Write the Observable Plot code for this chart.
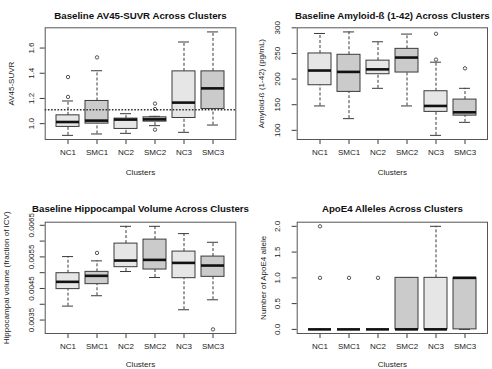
<!DOCTYPE html>
<html><head><meta charset="utf-8">
<script src="https://cdn.jsdelivr.net/npm/d3@7"></script>
<script src="https://cdn.jsdelivr.net/npm/@observablehq/plot@0.6"></script>
<style>
body{margin:0;background:#fff;}
#grid{display:grid;grid-template-columns:246px 246px;grid-template-rows:185px 184px;width:492px;height:369px;}
#grid svg{overflow:visible;}
</style></head><body><div id="grid"></div>
<script>
// ---- data ----
const clusters = ["NC1", "SMC1", "NC2", "SMC2", "NC3", "SMC3"];
const groups = ["NC", "SMC", "NC", "SMC", "NC", "SMC"];

// Panel 1: AV45-SUVR
const av45Low = [0.907, 0.918, 0.923, 0.984, 0.931, 0.989];
const av45Q1 = [0.974, 1.0, 0.958, 1.016, 1.045, 1.116];
const av45Median = [1.013, 1.024, 1.032, 1.034, 1.167, 1.28];
const av45Q3 = [1.066, 1.18, 1.04, 1.05, 1.415, 1.415];
const av45High = [1.18, 1.42, 1.079, 1.058, 1.648, 1.728];
const av45OutCluster = ["NC1", "NC1", "SMC1", "SMC2", "SMC2", "SMC2"];
const av45OutValue = [1.212, 1.37, 1.526, 1.159, 1.116, 0.952];
const av45Cutoff = [1.11];
const av45Ticks = [1.0, 1.2, 1.4, 1.6];

// Panel 2: Amyloid-beta (1-42)
const abLow = [147.6, 122.8, 182, 147.6, 90.2, 115.6];
const abQ1 = [188, 175, 209.5, 212.8, 136, 128.7];
const abMedian = [216.7, 214, 219, 242, 147.6, 135.2];
const abQ3 = [250, 247.4, 236, 259, 176.3, 160];
const abHigh = [289, 292, 272.8, 287.8, 233, 182];
const abOutCluster = ["NC3", "NC3", "SMC3"];
const abOutValue = [288.4, 238, 221];
const abTicks = [100, 150, 200, 250, 300];

// Panel 3: Hippocampal volume
const hipLow = [0.003942, 0.00427, 0.005037, 0.004847, 0.003826, 0.004142];
const hipQ1 = [0.00448, 0.004637, 0.005174, 0.0051, 0.004826, 0.004868];
const hipMedian = [0.00471, 0.0049, 0.005384, 0.005405, 0.00531, 0.005226];
const hipQ3 = [0.004984, 0.005026, 0.005921, 0.006047, 0.005668, 0.00551];
const hipHigh = [0.00551, 0.005374, 0.006468, 0.006468, 0.006237, 0.005963];
const hipOutCluster = ["SMC1", "SMC3"];
const hipOutValue = [0.005626, 0.003205];
const hipTicks = [0.0035, 0.004, 0.0045, 0.005, 0.0055, 0.006, 0.0065];
const hipTickLabels = ["0.0035", "", "0.0045", "", "0.0055", "", "0.0065"];

// Panel 4: ApoE4 alleles
const apoLow = [0, 0, 0, 0, 0, 0];
const apoQ1 = [0, 0, 0, 0, 0, 0];
const apoMedian = [0, 0, 0, 0, 0, 1];
const apoQ3 = [0, 0, 0, 1, 1, 1];
const apoHigh = [0, 0, 0, 1, 2, 1];
const apoOutCluster = ["NC1", "NC1", "SMC1", "NC2"];
const apoOutValue = [1, 2, 1, 1];
const apoTicks = [0, 0.5, 1, 1.5, 2];

// ---- drawing ----
const FONT = "'Liberation Sans', Arial, Helvetica, sans-serif";
const INK = "#3a3a3a";

function rangeWithPad(values) {
  const [a, b] = d3.extent(values);
  const p = (b - a) * 0.04;
  return [a - p, b + p];
}

function panel(o) {
  const rows = clusters.map((c, i) => ({
    cluster: c, group: groups[i], lo: o.lo[i], q1: o.q1[i], med: o.med[i], q3: o.q3[i], hi: o.hi[i]
  }));
  const outs = o.outCluster.map((c, i) => ({cluster: c, value: o.outValue[i]}));
  const domain = rangeWithPad([...o.lo, ...o.hi, ...o.outValue]);
  const marks = [
    Plot.ruleX(rows, {x: "cluster", y1: "q3", y2: "hi", stroke: INK, strokeDasharray: "3,2"}),
    Plot.ruleX(rows, {x: "cluster", y1: "lo", y2: "q1", stroke: INK, strokeDasharray: "3,2"}),
    Plot.tickY(rows, {x: "cluster", y: "hi", stroke: INK, insetLeft: 6, insetRight: 6}),
    Plot.tickY(rows, {x: "cluster", y: "lo", stroke: INK, insetLeft: 6, insetRight: 6}),
    Plot.barY(rows, {x: "cluster", y1: "q1", y2: "q3", fill: "group", stroke: INK, strokeWidth: 1}),
    Plot.tickY(rows, {x: "cluster", y: "med", stroke: "#111", strokeWidth: 2.6}),
    Plot.dot(outs, {x: "cluster", y: "value", r: 1.7, stroke: "#555", strokeWidth: 1, fill: "none"})
  ];
  if (o.cutoff) marks.push(Plot.ruleY(o.cutoff, {stroke: "#333", strokeWidth: 1.6, strokeDasharray: "1.6,1.6"}));
  marks.push(
    Plot.axisX({tickSize: 5, tickPadding: 5, fontSize: 8, stroke: INK, fill: "#222",
      label: "Clusters", labelAnchor: "center", labelOffset: o.xLabelOffset, labelArrow: "none"}),
    Plot.axisY({ticks: o.ticks, tickFormat: o.tickFormat, tickSize: 5, tickRotate: -90,
      tickPadding: o.tickPad, fontSize: 8, stroke: INK, fill: "#222",
      label: o.yLabel, labelAnchor: "center", labelOffset: o.labelOffset, labelArrow: "none"}),
    Plot.text([o.title], {frameAnchor: "top", dy: o.titleDy, fontWeight: "bold", fontSize: 9.7, fill: "#111"}),
    Plot.frame({stroke: "#555"})
  );
  return Plot.plot({
    width: 246, height: o.height,
    marginTop: o.mt, marginRight: o.mr, marginBottom: o.mb, marginLeft: o.ml,
    style: {fontFamily: FONT, fontSize: "8px", background: "transparent", overflow: "visible"},
    x: {type: "band", domain: clusters, paddingInner: 0.2, paddingOuter: 0.34, label: null},
    y: {domain, label: null},
    color: {domain: ["NC", "SMC"], range: ["#e6e6e6", "#cbcbcb"]},
    marks
  });
}

const grid = document.getElementById("grid");
grid.append(panel({
  title: "Baseline AV45-SUVR Across Clusters", yLabel: "AV45-SUVR",
  lo: av45Low, q1: av45Q1, med: av45Median, q3: av45Q3, hi: av45High,
  outCluster: av45OutCluster, outValue: av45OutValue, cutoff: av45Cutoff,
  ticks: av45Ticks, tickFormat: d => d.toFixed(1), tickPad: 6, labelOffset: 37, xLabelOffset: 35,
  height: 185, mt: 27.3, mr: 10.7, mb: 46, ml: 44.7, titleDy: -15.6
}));
grid.append(panel({
  title: "Baseline Amyloid-ß (1-42) Across Clusters", yLabel: "Amyloid-ß (1-42) (pg/mL)",
  lo: abLow, q1: abQ1, med: abMedian, q3: abQ3, hi: abHigh,
  outCluster: abOutCluster, outValue: abOutValue,
  ticks: abTicks, tickFormat: d => String(d), tickPad: 12, labelOffset: 39, xLabelOffset: 35,
  height: 185, mt: 27.3, mr: 5, mb: 46, ml: 50.7, titleDy: -15.6
}));
grid.append(panel({
  title: "Baseline Hippocampal Volume Across Clusters", yLabel: "Hippocampal volume (fraction of ICV)",
  lo: hipLow, q1: hipQ1, med: hipMedian, q3: hipQ3, hi: hipHigh,
  outCluster: hipOutCluster, outValue: hipOutValue,
  ticks: hipTicks, tickFormat: d => hipTickLabels[hipTicks.indexOf(d)], tickPad: 6, labelOffset: 42, xLabelOffset: 33,
  height: 184, mt: 36.7, mr: 10.7, mb: 36, ml: 44.7, titleDy: -16.7
}));
grid.append(panel({
  title: "ApoE4 Alleles Across Clusters", yLabel: "Number of ApoE4 allele",
  lo: apoLow, q1: apoQ1, med: apoMedian, q3: apoQ3, hi: apoHigh,
  outCluster: apoOutCluster, outValue: apoOutValue,
  ticks: apoTicks, tickFormat: d => d.toFixed(1), tickPad: 12, labelOffset: 37, xLabelOffset: 33,
  height: 184, mt: 36.7, mr: 5, mb: 36, ml: 50.7, titleDy: -16.7
}));
</script></body></html>
